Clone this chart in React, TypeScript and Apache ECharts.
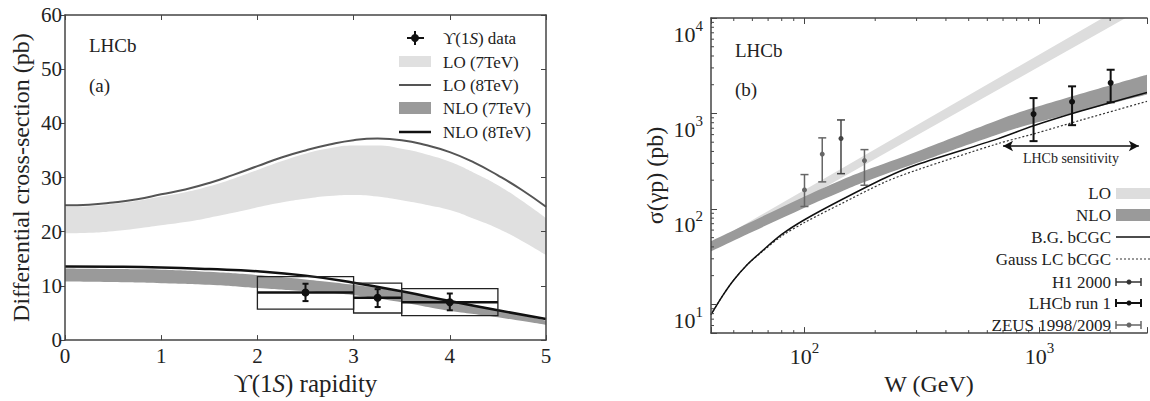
import React, { useEffect, useRef } from "react";
import * as echarts from "echarts";

const FONT = "'Liberation Serif', 'DejaVu Serif', 'Times New Roman', Times, serif";
const INK = "#222";
const AXIS = "#444";

// ---------- panel (a): Upsilon(1S) rapidity ----------
const rapidityFine = [0, 0.25, 0.5, 0.75, 1, 1.25, 1.5, 1.75, 2, 2.25, 2.5, 2.75, 3, 3.25, 3.5, 3.75, 4, 4.25, 4.5, 4.75, 5];
const lo8 = [24.9, 25.0, 25.4, 26.0, 26.9, 27.8, 29.0, 30.5, 32.1, 33.7, 35.0, 36.1, 36.9, 37.2, 36.9, 36.0, 34.7, 32.8, 30.4, 27.7, 24.6];
const lo7Upper = [24.6, 24.7, 25.1, 25.7, 26.5, 27.3, 28.4, 29.8, 31.4, 33.0, 34.4, 35.4, 35.9, 35.9, 35.3, 34.3, 32.9, 30.9, 28.6, 25.7, 22.5];
const lo7Lower = [19.7, 19.8, 20.1, 20.6, 21.2, 21.8, 22.6, 23.5, 24.5, 25.4, 26.1, 26.6, 26.8, 26.5, 25.8, 25.0, 24.0, 22.4, 20.6, 18.3, 15.7];

const rapidity = [0, 0.5, 1, 1.5, 2, 2.5, 3, 3.5, 4, 4.5, 5];
const nlo8 = [13.6, 13.55, 13.4, 13.1, 12.7, 11.9, 10.6, 9.0, 7.2, 5.5, 3.9];
const nlo7Upper = [13.2, 13.1, 13.0, 12.6, 12.0, 11.2, 10.2, 8.9, 7.3, 5.6, 3.6];
const nlo7Lower = [10.8, 10.7, 10.5, 10.2, 9.6, 9.0, 8.3, 7.0, 5.4, 4.2, 2.8];

const binLow = [2, 3, 3.5];
const binHigh = [3, 3.5, 4.5];
const pointX = [2.5, 3.25, 4.0];
const pointVal = [8.8, 7.8, 7.0];
const statLow = [7.2, 6.1, 5.5];
const statHigh = [10.4, 9.4, 8.6];
const systLow = [5.7, 5.0, 4.5];
const systHigh = [11.7, 10.5, 9.5];

// ---------- panel (b): sigma(gamma p) vs W ----------
const wLO = [40, 100, 300, 1000, 2000, 2870];
const loUpper = [43, 158, 751, 4150, 11090, 18530];
const loLower = [36, 128, 586, 3105, 8110, 13390];
const wNLO = [40, 100, 143, 180, 300, 664, 944, 2870];
const nloUpper = [46, 135, 200, 251, 398, 851, 1148, 2550];
const nloLower = [36, 103, 151, 191, 302, 603, 785, 1580];
const wCGC = [40, 45, 50, 57, 65, 80, 100, 143, 220, 300, 664, 944, 1500, 2870];
const bgCGC = [7.8, 12.5, 18, 26, 35, 54, 77, 124, 211, 290, 542, 743, 1060, 1660];
const gaussCGC = [7.8, 12.5, 18, 26, 34.5, 52, 72, 113, 191, 255, 482, 610, 850, 1340];

const zeusW = [100, 119, 180];
const zeusVal = [158, 375, 321];
const zeusLow = [106, 192, 177];
const zeusHigh = [229, 555, 418];
const h1W = [143];
const h1Val = [547];
const h1Low = [234];
const h1High = [855];
const lhcbW = [944, 1377, 2010];
const lhcbVal = [986, 1327, 2095];
const lhcbLow = [513, 754, 1309];
const lhcbHigh = [1449, 1923, 2870];

const sensitivityW = [700, 2650];
const sensitivitySigma = 456;

const xMinorTicks = [50, 60, 70, 80, 90, 200, 300, 400, 500, 600, 700, 800, 900, 2000];
const yMinorTicks = [6, 7, 8, 9, 20, 30, 40, 50, 60, 70, 80, 90, 200, 300, 400, 500, 600, 700, 800, 900, 2000, 3000, 4000, 5000, 6000, 7000, 8000, 9000];

const X_MIN_B = 40;
const X_MAX_B = 2870;
const Y_MIN_B = 5;
const Y_MAX_B = 10000;

// A band = area under the upper edge in the band colour, then area under the lower edge in white.
function bandSeries(xs: number[], lower: number[], upper: number[], color: string, xi: number, yi: number, smooth: boolean | number) {
  return [
    {
      type: "line", xAxisIndex: xi, yAxisIndex: yi, smooth, silent: true,
      symbol: "none", lineStyle: { opacity: 0, width: 0 },
      areaStyle: { color, opacity: 1 },
      data: xs.map((x, i) => [x, upper[i]]),
    },
    {
      type: "line", xAxisIndex: xi, yAxisIndex: yi, smooth, silent: true,
      symbol: "none", lineStyle: { opacity: 0, width: 0 },
      areaStyle: { color: "#ffffff", opacity: 1 },
      data: xs.map((x, i) => [x, lower[i]]),
    },
  ];
}

function errorBarSeries(xs: number[], vals: number[], lows: number[], highs: number[], color: string, width: number, r: number) {
  return {
    type: "custom", xAxisIndex: 2, yAxisIndex: 2, silent: true, z: 5,
    encode: { x: 0, y: 1 },
    data: xs.map((x, i) => [x, vals[i], lows[i], highs[i]]),
    renderItem: (_p: any, api: any) => {
      const c = api.coord([api.value(0), api.value(1)]);
      const lo = api.coord([api.value(0), api.value(2)]);
      const hi = api.coord([api.value(0), api.value(3)]);
      const st = { stroke: color, lineWidth: width };
      return {
        type: "group",
        children: [
          { type: "line", shape: { x1: c[0], y1: lo[1], x2: c[0], y2: hi[1] }, style: st },
          { type: "line", shape: { x1: c[0] - 4, y1: lo[1], x2: c[0] + 4, y2: lo[1] }, style: st },
          { type: "line", shape: { x1: c[0] - 4, y1: hi[1], x2: c[0] + 4, y2: hi[1] }, style: st },
          { type: "circle", shape: { cx: c[0], cy: c[1], r }, style: { fill: color } },
        ],
      };
    },
  };
}

function powLabel(v: number) {
  const e = Math.log10(v);
  const r = Math.round(e);
  if (Math.abs(e - r) > 1e-6) return "";
  return `{b|10}{s|${r}}`;
}

const powRich = {
  b: { fontFamily: FONT, fontSize: 22, color: INK, verticalAlign: "bottom", lineHeight: 27 },
  s: { fontFamily: FONT, fontSize: 15, color: INK, verticalAlign: "top", lineHeight: 27 },
};

function buildOption() {
  const axisLine = { show: true, onZero: false, lineStyle: { color: AXIS, width: 1.5 } };
  const tickIn = { show: true, inside: true, length: 5, lineStyle: { color: AXIS, width: 1 } };

  const legendA: any[] = [];
  const lx0 = 399, lx1 = 431, ltx = 443;
  const rowsA = [38, 62, 85, 108, 132];
  legendA.push(
    { type: "line", shape: { x1: 415, y1: 31, x2: 415, y2: 45 }, style: { stroke: "#111", lineWidth: 2 } },
    { type: "line", shape: { x1: 407, y1: 38, x2: 424, y2: 38 }, style: { stroke: "#111", lineWidth: 2 } },
    { type: "circle", shape: { cx: 415, cy: 38, r: 4 }, style: { fill: "#111" } },
    { type: "rect", shape: { x: lx0, y: 56, width: lx1 - lx0, height: 11 }, style: { fill: "#e0e0e0" } },
    { type: "line", shape: { x1: lx0, y1: 85, x2: lx1, y2: 85 }, style: { stroke: "#555", lineWidth: 2 } },
    { type: "rect", shape: { x: lx0, y: 102, width: lx1 - lx0, height: 12 }, style: { fill: "#9a9a9a" } },
    { type: "line", shape: { x1: lx0, y1: 132, x2: lx1, y2: 132 }, style: { stroke: "#111", lineWidth: 2.5 } },
  );
  const legendATexts = ["{n|ϒ(1}{i|S}{n|) data}", "LO (7TeV)", "LO (8TeV)", "NLO (7TeV)", "NLO (8TeV)"];
  legendATexts.forEach((t, i) => {
    legendA.push({
      type: "text", x: ltx, y: rowsA[i],
      style: {
        text: t, fontFamily: FONT, fontSize: 17, fill: INK, align: "left", verticalAlign: "middle",
        rich: {
          n: { fontFamily: FONT, fontSize: 17, fill: INK, color: INK },
          i: { fontFamily: FONT, fontSize: 17, fontStyle: "italic", fill: INK, color: INK },
        },
      },
    });
  });

  const legendB: any[] = [];
  const rowsB = [193, 215, 237, 259, 282, 303, 325];
  const textsB = ["LO", "NLO", "B.G. bCGC", "Gauss LC bCGC", "H1 2000", "LHCb run 1", "ZEUS 1998/2009"];
  textsB.forEach((t, i) => {
    legendB.push({
      type: "text", x: 1111, y: rowsB[i],
      style: { text: t, fontFamily: FONT, fontSize: 17, fill: INK, align: "right", verticalAlign: "middle" },
    });
  });
  const sx0 = 1116, sx1 = 1150;
  legendB.push(
    { type: "rect", shape: { x: sx0, y: 188, width: 40, height: 11 }, style: { fill: "#dddddd" } },
    { type: "rect", shape: { x: sx0, y: 209, width: 40, height: 12 }, style: { fill: "#9a9a9a" } },
    { type: "line", shape: { x1: sx0, y1: 237, x2: sx1, y2: 237 }, style: { stroke: "#111", lineWidth: 1.5 } },
    { type: "line", shape: { x1: sx0, y1: 259, x2: sx1, y2: 259 }, style: { stroke: "#333", lineWidth: 1.2, lineDash: [2, 2] } },
  );
  const errLegend = [
    { y: 282, c: "#333", w: 1.5 },
    { y: 303, c: "#111", w: 2 },
    { y: 325, c: "#666", w: 1.5 },
  ];
  errLegend.forEach((e) => {
    legendB.push(
      { type: "line", shape: { x1: 1116, y1: e.y, x2: 1141, y2: e.y }, style: { stroke: e.c, lineWidth: e.w } },
      { type: "line", shape: { x1: 1116, y1: e.y - 4, x2: 1116, y2: e.y + 4 }, style: { stroke: e.c, lineWidth: e.w } },
      { type: "line", shape: { x1: 1141, y1: e.y - 4, x2: 1141, y2: e.y + 4 }, style: { stroke: e.c, lineWidth: e.w } },
      { type: "circle", shape: { cx: 1129, cy: e.y, r: 2.5 }, style: { fill: e.c } },
    );
  });

  const labels = [
    { x: 89, y: 45, t: "LHCb" },
    { x: 89, y: 85, t: "(a)" },
    { x: 735, y: 50, t: "LHCb" },
    { x: 735, y: 89, t: "(b)" },
  ].map((l) => ({
    type: "text", x: l.x, y: l.y,
    style: { text: l.t, fontFamily: FONT, fontSize: 19, fill: INK, align: "left", verticalAlign: "middle" },
  }));

  const graphics = [...labels, ...legendA, ...legendB].map((g) => ({ ...g, z: 100, silent: true }));

  const series: any[] = [
    // panel (a)
    ...bandSeries(rapidityFine, lo7Lower, lo7Upper, "#e0e0e0", 0, 0, true),
    ...bandSeries(rapidity, nlo7Lower, nlo7Upper, "#9a9a9a", 0, 0, true),
    {
      type: "line", xAxisIndex: 0, yAxisIndex: 0, smooth: true, symbol: "none", silent: true,
      lineStyle: { color: "#555", width: 2 },
      data: rapidityFine.map((x, i) => [x, lo8[i]]),
    },
    {
      type: "line", xAxisIndex: 0, yAxisIndex: 0, smooth: true, symbol: "none", silent: true,
      lineStyle: { color: "#111", width: 2.5 },
      data: rapidity.map((x, i) => [x, nlo8[i]]),
    },
    {
      type: "custom", xAxisIndex: 0, yAxisIndex: 0, silent: true, z: 5,
      encode: { x: 0, y: 1 },
      data: pointX.map((x, i) => [x, pointVal[i], binLow[i], binHigh[i], systLow[i], systHigh[i], statLow[i], statHigh[i]]),
      renderItem: (_p: any, api: any) => {
        const c = api.coord([api.value(0), api.value(1)]);
        const tl = api.coord([api.value(2), api.value(5)]);
        const br = api.coord([api.value(3), api.value(4)]);
        const sl = api.coord([api.value(0), api.value(6)]);
        const sh = api.coord([api.value(0), api.value(7)]);
        return {
          type: "group",
          children: [
            { type: "rect", shape: { x: tl[0], y: tl[1], width: br[0] - tl[0], height: br[1] - tl[1] }, style: { fill: "none", stroke: "#222", lineWidth: 1.3 } },
            { type: "line", shape: { x1: tl[0], y1: c[1], x2: br[0], y2: c[1] }, style: { stroke: "#111", lineWidth: 2.5 } },
            { type: "line", shape: { x1: c[0], y1: sl[1], x2: c[0], y2: sh[1] }, style: { stroke: "#111", lineWidth: 2 } },
            { type: "line", shape: { x1: c[0] - 3, y1: sl[1], x2: c[0] + 3, y2: sl[1] }, style: { stroke: "#111", lineWidth: 2 } },
            { type: "line", shape: { x1: c[0] - 3, y1: sh[1], x2: c[0] + 3, y2: sh[1] }, style: { stroke: "#111", lineWidth: 2 } },
            { type: "circle", shape: { cx: c[0], cy: c[1], r: 4 }, style: { fill: "#111" } },
          ],
        };
      },
    },
    // panel (b)
    ...bandSeries(wLO, loLower, loUpper, "#dddddd", 2, 2, false),
    ...bandSeries(wNLO, nloLower, nloUpper, "#9a9a9a", 2, 2, 0.4),
    {
      type: "line", xAxisIndex: 2, yAxisIndex: 2, smooth: 0.3, symbol: "none", silent: true,
      lineStyle: { color: "#333", width: 1.2, type: [2, 2] },
      data: wCGC.map((x, i) => [x, gaussCGC[i]]),
    },
    {
      type: "line", xAxisIndex: 2, yAxisIndex: 2, smooth: 0.3, symbol: "none", silent: true,
      lineStyle: { color: "#111", width: 1.5 },
      data: wCGC.map((x, i) => [x, bgCGC[i]]),
      markLine: {
        silent: true, symbol: ["arrow", "arrow"], symbolSize: [8, 10],
        lineStyle: { color: "#111", width: 1.5, type: "solid" },
        label: { show: true, position: "insideMiddleBottom", formatter: "LHCb sensitivity", fontFamily: FONT, fontSize: 14, color: INK, distance: 5 },
        data: [[{ coord: [sensitivityW[0], sensitivitySigma] }, { coord: [sensitivityW[1], sensitivitySigma] }]],
      },
    },
    errorBarSeries(zeusW, zeusVal, zeusLow, zeusHigh, "#666", 1.5, 2.5),
    errorBarSeries(h1W, h1Val, h1Low, h1High, "#444", 1.5, 2.5),
    errorBarSeries(lhcbW, lhcbVal, lhcbLow, lhcbHigh, "#111", 2, 3),
    {
      type: "custom", xAxisIndex: 2, yAxisIndex: 2, silent: true, z: 6, clip: false,
      encode: { x: 0, y: 1 },
      data: xMinorTicks.map((v) => [v, Y_MIN_B]),
      renderItem: (_p: any, api: any) => {
        const b = api.coord([api.value(0), Y_MIN_B]);
        const t = api.coord([api.value(0), Y_MAX_B]);
        const st = { stroke: AXIS, lineWidth: 1 };
        return {
          type: "group",
          children: [
            { type: "line", shape: { x1: b[0], y1: b[1], x2: b[0], y2: b[1] - 3 }, style: st },
            { type: "line", shape: { x1: t[0], y1: t[1], x2: t[0], y2: t[1] + 3 }, style: st },
          ],
        };
      },
    },
    {
      type: "custom", xAxisIndex: 2, yAxisIndex: 2, silent: true, z: 6, clip: false,
      encode: { x: 0, y: 1 },
      data: yMinorTicks.map((v) => [X_MIN_B, v]),
      renderItem: (_p: any, api: any) => {
        const l = api.coord([X_MIN_B, api.value(1)]);
        return { type: "line", shape: { x1: l[0], y1: l[1], x2: l[0] + 3, y2: l[1] }, style: { stroke: AXIS, lineWidth: 1 } };
      },
    },
  ];

  return {
    animation: false,
    backgroundColor: "#ffffff",
    textStyle: { fontFamily: FONT },
    grid: [
      { left: 65, top: 15, width: 481, height: 327 },
      { left: 711, top: 18, width: 439, height: 322 },
    ],
    xAxis: [
      {
        gridIndex: 0, type: "value", min: 0, max: 5, interval: 1, z: 10,
        axisLine, axisTick: tickIn, splitLine: { show: false },
        axisLabel: { fontFamily: FONT, fontSize: 21, color: INK, margin: 5 },
        name: "{n|ϒ(1}{i|S}{n|) rapidity}", nameLocation: "middle", nameGap: 29,
        nameTextStyle: {
          fontFamily: FONT, fontSize: 25, color: INK,
          rich: {
            n: { fontFamily: FONT, fontSize: 25, color: INK },
            i: { fontFamily: FONT, fontSize: 25, color: INK, fontStyle: "italic" },
          },
        },
      },
      {
        gridIndex: 0, type: "value", position: "top", min: 0, max: 5, interval: 1, z: 10,
        axisLine, axisTick: tickIn, axisLabel: { show: false }, splitLine: { show: false },
      },
      {
        gridIndex: 1, type: "log", logBase: 10, min: X_MIN_B, max: X_MAX_B, z: 10,
        axisLine, axisTick: { ...tickIn, length: 6 }, splitLine: { show: false },
        axisLabel: { formatter: powLabel, rich: powRich, margin: 7 },
        name: "W (GeV)", nameLocation: "middle", nameGap: 32,
        nameTextStyle: { fontFamily: FONT, fontSize: 24, color: INK },
      },
      {
        gridIndex: 1, type: "log", logBase: 10, position: "top", min: X_MIN_B, max: X_MAX_B, z: 10,
        axisLine, axisTick: { ...tickIn, length: 6 }, axisLabel: { show: false }, splitLine: { show: false },
      },
    ],
    yAxis: [
      {
        gridIndex: 0, type: "value", min: 0, max: 60, interval: 10, z: 10,
        axisLine, axisTick: { show: true, inside: false, length: 4, lineStyle: { color: AXIS } }, splitLine: { show: false },
        axisLabel: { fontFamily: FONT, fontSize: 21, color: INK, margin: 3 },
        name: "Differential cross-section (pb)", nameLocation: "middle", nameGap: 32,
        nameTextStyle: { fontFamily: FONT, fontSize: 24, color: INK },
      },
      {
        gridIndex: 0, type: "value", position: "right", min: 0, max: 60, interval: 10, z: 10,
        axisLine, axisTick: tickIn, axisLabel: { show: false }, splitLine: { show: false },
      },
      {
        gridIndex: 1, type: "log", logBase: 10, min: Y_MIN_B, max: Y_MAX_B, z: 10,
        axisLine, axisTick: { ...tickIn, length: 6 }, splitLine: { show: false },
        axisLabel: { formatter: powLabel, rich: powRich, margin: 8, verticalAlign: "top" },
        name: "σ(γp) (pb)", nameLocation: "middle", nameGap: 44,
        nameTextStyle: { fontFamily: FONT, fontSize: 24, color: INK },
      },
    ],
    series,
    graphic: graphics,
  };
}

export default function App() {
  const ref = useRef<HTMLDivElement>(null);
  useEffect(() => {
    if (!ref.current) return;
    const chart = echarts.init(ref.current, undefined, { renderer: "svg" });
    chart.setOption(buildOption() as any);
    return () => chart.dispose();
  }, []);
  return (
    <div
      ref={ref}
      style={{ position: "absolute", left: 0, top: 0, width: 1150, height: 401, background: "#fff" }}
    />
  );
}
